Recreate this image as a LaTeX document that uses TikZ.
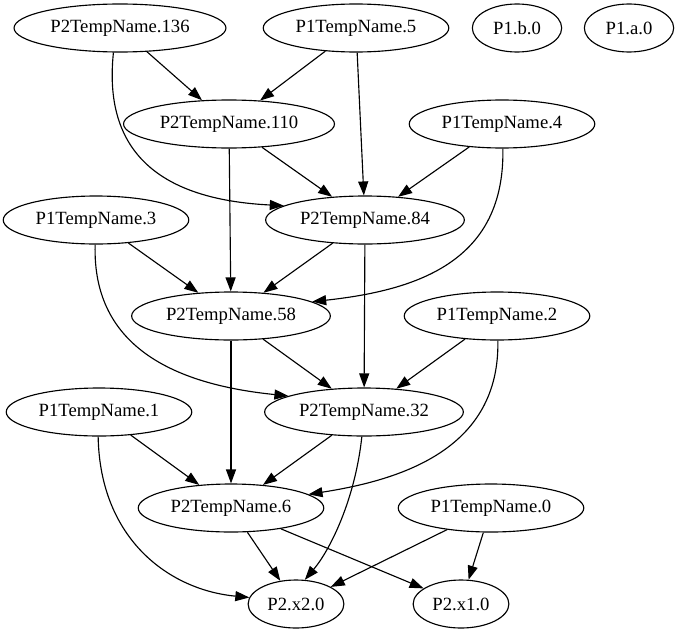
\documentclass[tikz,border=0pt]{standalone}
\usepackage{fontspec}
\setmainfont{Liberation Serif}
\usetikzlibrary{arrows.meta, shapes.geometric}

\begin{document}
\begin{tikzpicture}[x=0.75pt, y=-0.75pt,
    vtx/.style={draw, ellipse, line width=0.85pt, inner xsep=4pt,
      minimum width=54pt, minimum height=36pt,
      font=\fontsize{14}{16}\selectfont},
    small/.style={minimum width=67pt},
    edge/.style={-{Triangle[length=10.5pt, width=7.5pt]}, line width=0.85pt}]
  \useasboundingbox (0,0) rectangle (680,635);
  \foreach \n/\x/\y/\t in {
      t136/120/28/P2TempName.136,
      t5/356/28/P1TempName.5,
      t110/229/124/P2TempName.110,
      t4/502/124/P1TempName.4,
      t3/96/220/P1TempName.3,
      t84/365/220/P2TempName.84,
      t58/231/316/P2TempName.58,
      t2/497/316/P1TempName.2,
      t1/99/412/P1TempName.1,
      t32/364/412/P2TempName.32,
      t6/231/508/P2TempName.6,
      t0/491/508/P1TempName.0,
      x2/296/604/P2.x2.0,
      x1/461/604/P2.x1.0} {
    \node[vtx] (\n) at (\x,\y) {\t};
  }
  \node[vtx, small] (pb) at (517,28) {P1.b.0};
  \node[vtx, small] (pa) at (629,28) {P1.a.0};
  % straight edges
  \foreach \a/\b in {t136/t110, t5/t110, t5/t84, t110/t84, t110/t58,
      t4/t84, t3/t58, t84/t58, t84/t32, t58/t32, t58/t6, t2/t32,
      t1/t6, t32/t6, t6/x2, t6/x1, t0/x2, t0/x1} {
    \draw[edge] (\a) -- (\b);
  }
  % bent edges
  \draw[edge] (t136.255) .. controls (102,160) and (170,200) .. (t84.170);
  \draw[edge] (t4.272) .. controls (505,260) and (420,290) .. (t58.10);
  \draw[edge] (t3.268) .. controls (92,350) and (180,385) .. (t32.168);
  \draw[edge] (t2.272) .. controls (500,450) and (400,480) .. (t6.10);
  \draw[edge] (t1.268) .. controls (100,540) and (170,590) .. (x2.172);
  \draw[edge] (t32.265) .. controls (355,500) and (330,550) .. (x2.70);
\end{tikzpicture}
\end{document}
